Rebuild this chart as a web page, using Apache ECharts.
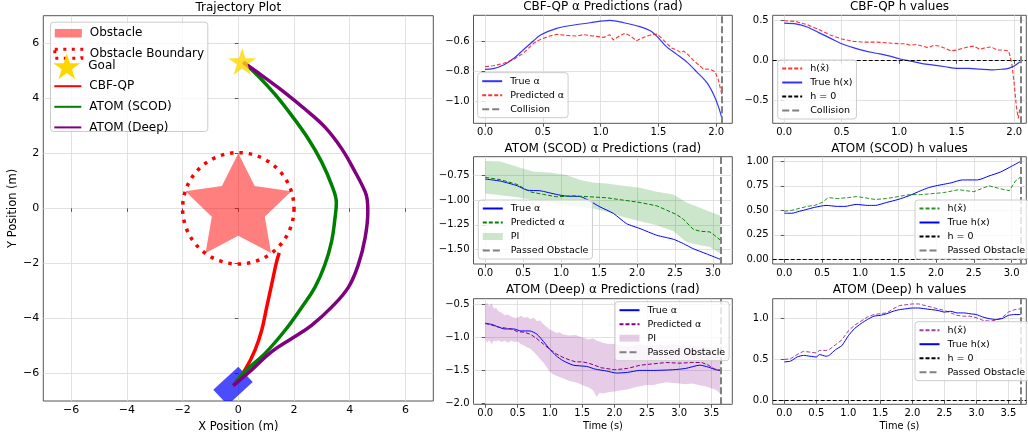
<!DOCTYPE html>
<html>
<head>
<meta charset="utf-8">
<title>Trajectory and CBF predictions</title>
<script src="https://cdn.jsdelivr.net/npm/echarts@6.0.0/dist/echarts.min.js"></script>
<style>
  html, body { margin: 0; padding: 0; background: #fff; }
  #chart { width: 1028px; height: 438px; }
</style>
</head>
<body>
<div id="chart"></div>
<script>
var FONT = 'DejaVu Sans';

// ---------- trajectory plot (m) ----------
var cbfPathX = [-0.18, 0.24, 0.6, 0.84, 1.02, 1.2, 1.38, 1.47];
var cbfPathY = [-6.44, -5.87, -5.15, -4.43, -3.59, -2.75, -1.92, -1.62];
var scodPathX = [-0.18, 0.24, 0.96, 1.68, 2.28, 2.75, 3.11, 3.35, 3.47, 3.52, 3.35, 2.99, 2.51, 1.92, 1.32, 0.72, 0.18];
var scodPathY = [-6.44, -5.93, -5.27, -4.43, -3.59, -2.87, -2.04, -1.2, -0.36, 0.2, 0.85, 1.69, 2.53, 3.37, 4.14, 4.8, 5.31];
var deepPathX = [-0.18, 0.48, 1.2, 1.92, 2.63, 3.35, 3.95, 4.31, 4.55, 4.65, 4.63, 4.55, 4.19, 3.71, 3.11, 2.4, 1.68, 0.96, 0.18];
var deepPathY = [-6.44, -5.87, -5.21, -4.73, -4.25, -3.59, -2.87, -2.04, -1.08, -0.12, 0.3, 0.61, 1.33, 2.17, 2.95, 3.6, 4.2, 4.74, 5.31];
var goalPos = [0.14, 5.34];
var obstacleCenter = [0, 0];
var obstacleOuterR = 2.0;
var obstacleInnerR = 1.0;
var boundaryR = 2.0;
var robotPos = [-0.19, -6.45];
var robotSize = [1.23, 0.76];
var robotHeadingDeg = 43;
var trajTicks = [-6, -4, -2, 0, 2, 4, 6];

// ---------- CBF-QP ----------
var cbfAlphaTrueT = [0, 0.07, 0.16, 0.25, 0.33, 0.42, 0.48, 0.62, 0.77, 0.91, 1.08, 1.2, 1.34, 1.43, 1.49, 1.57, 1.66, 1.75, 1.83, 1.92, 1.98, 2.02, 2.05];
var cbfAlphaTrue = [-0.787, -0.782, -0.758, -0.714, -0.659, -0.598, -0.56, -0.516, -0.494, -0.479, -0.464, -0.479, -0.505, -0.532, -0.571, -0.637, -0.688, -0.741, -0.802, -0.875, -0.956, -1.033, -1.11];
var cbfAlphaPredT = [0, 0.07, 0.16, 0.25, 0.33, 0.42, 0.48, 0.56, 0.62, 0.71, 0.79, 0.85, 0.94, 1.03, 1.05, 1.08, 1.11, 1.17, 1.21, 1.26, 1.31, 1.37, 1.43, 1.49, 1.53, 1.57, 1.62, 1.66, 1.69, 1.72, 1.76, 1.8, 1.85, 1.89, 1.95, 1.99, 2.02, 2.05];
var cbfAlphaPred = [-0.769, -0.763, -0.747, -0.721, -0.681, -0.615, -0.589, -0.567, -0.556, -0.563, -0.567, -0.558, -0.567, -0.576, -0.567, -0.558, -0.593, -0.563, -0.549, -0.567, -0.598, -0.576, -0.56, -0.554, -0.582, -0.615, -0.648, -0.659, -0.675, -0.666, -0.692, -0.725, -0.758, -0.785, -0.787, -0.802, -0.857, -0.956];
var cbfHHatT = [0, 0.1, 0.2, 0.3, 0.4, 0.5, 0.6, 0.7, 0.8, 0.9, 1.0, 1.05, 1.1, 1.15, 1.2, 1.25, 1.3, 1.35, 1.4, 1.45, 1.5, 1.55, 1.6, 1.65, 1.7, 1.75, 1.8, 1.85, 1.9, 1.95, 1.965, 1.98, 2.0, 2.02, 2.035, 2.05];
var cbfHHat = [0.5, 0.49, 0.45, 0.39, 0.32, 0.27, 0.24, 0.23, 0.23, 0.22, 0.21, 0.21, 0.19, 0.2, 0.18, 0.16, 0.19, 0.18, 0.15, 0.12, 0.13, 0.15, 0.17, 0.18, 0.14, 0.16, 0.17, 0.13, 0.13, 0.12, 0.05, -0.05, -0.3, -0.6, -0.73, -0.6];
var cbfHTrueT = [0, 0.1, 0.2, 0.3, 0.4, 0.5, 0.6, 0.7, 0.8, 0.9, 1.0, 1.1, 1.2, 1.3, 1.4, 1.5, 1.6, 1.7, 1.8, 1.9, 1.95, 2.0, 2.05, 2.065];
var cbfHTrue = [0.47, 0.46, 0.42, 0.35, 0.28, 0.21, 0.16, 0.12, 0.09, 0.06, 0.02, -0.01, -0.04, -0.06, -0.08, -0.1, -0.1, -0.11, -0.12, -0.11, -0.1, -0.07, -0.02, 0.0];
var cbfCollisionT = 2.05;

// ---------- ATOM (SCOD) ----------
var scodAlphaTrueT = [0, 0.2, 0.42, 0.55, 0.72, 0.94, 1.07, 1.25, 1.38, 1.51, 1.69, 1.86, 2.04, 2.26, 2.48, 2.61, 2.74, 2.91, 3.1];
var scodAlphaTrue = [-0.784, -0.805, -0.852, -0.897, -0.903, -0.941, -0.958, -0.962, -1.009, -1.067, -1.135, -1.238, -1.289, -1.357, -1.398, -1.442, -1.494, -1.545, -1.603];
var scodAlphaPredT = [0, 0.2, 0.42, 0.59, 0.77, 0.94, 1.16, 1.38, 1.6, 1.82, 2.04, 2.26, 2.39, 2.52, 2.61, 2.74, 2.83, 2.96, 3.02, 3.1];
var scodAlphaPred = [-0.767, -0.79, -0.839, -0.914, -0.941, -0.965, -0.955, -0.965, -0.975, -0.999, -1.023, -1.057, -1.101, -1.146, -1.193, -1.296, -1.316, -1.323, -1.357, -1.408];
var scodBandT = [0, 0.2, 0.42, 0.64, 0.85, 1.07, 1.25, 1.42, 1.6, 1.82, 2.04, 2.26, 2.48, 2.65, 2.83, 2.96, 3.1];
var scodBandHi = [-0.6, -0.605, -0.658, -0.709, -0.716, -0.743, -0.794, -0.818, -0.828, -0.852, -0.873, -0.914, -0.941, -1.023, -1.077, -1.118, -1.159];
var scodBandLo = [-0.931, -0.948, -0.97, -0.999, -1.023, -1.05, -1.067, -1.084, -1.118, -1.17, -1.214, -1.255, -1.316, -1.425, -1.459, -1.477, -1.545];
var scodHHatT = [0, 0.1, 0.2, 0.3, 0.4, 0.5, 0.58, 0.7, 0.85, 0.95, 1.05, 1.2, 1.35, 1.5, 1.65, 1.8, 1.95, 2.1, 2.3, 2.5, 2.7, 2.85, 2.97, 3.05, 3.12];
var scodHHat = [0.49, 0.5, 0.52, 0.54, 0.55, 0.58, 0.63, 0.62, 0.63, 0.64, 0.63, 0.61, 0.62, 0.64, 0.66, 0.66, 0.67, 0.68, 0.71, 0.69, 0.75, 0.72, 0.7, 0.8, 0.84];
var scodHTrueT = [0, 0.1, 0.2, 0.3, 0.4, 0.55, 0.7, 0.8, 0.95, 1.1, 1.2, 1.35, 1.5, 1.65, 1.8, 1.9, 2.0, 2.2, 2.35, 2.55, 2.7, 2.85, 3.0, 3.12];
var scodHTrue = [0.47, 0.47, 0.49, 0.51, 0.53, 0.55, 0.54, 0.54, 0.56, 0.55, 0.55, 0.58, 0.61, 0.65, 0.7, 0.73, 0.75, 0.78, 0.81, 0.81, 0.85, 0.89, 0.95, 1.0];
var scodPassT = 3.1;
var scodHPassT = 3.12;

// ---------- ATOM (Deep) ----------
var deepAlphaTrueT = [0, 0.1, 0.2, 0.3, 0.44, 0.55, 0.69, 0.8, 0.9, 1.0, 1.1, 1.2, 1.36, 1.57, 1.7, 1.88, 2.03, 2.2, 2.39, 2.6, 2.9, 3.1, 3.32, 3.45, 3.57, 3.64];
var deepAlphaTrue = [-0.79, -0.8, -0.84, -0.87, -0.87, -0.9, -0.9, -0.95, -1.06, -1.18, -1.28, -1.35, -1.42, -1.44, -1.48, -1.51, -1.54, -1.53, -1.5, -1.5, -1.49, -1.47, -1.42, -1.45, -1.49, -1.5];
var deepAlphaPredT = [0, 0.2, 0.4, 0.5, 0.6, 0.7, 0.8, 0.9, 1.0, 1.1, 1.2, 1.3, 1.4, 1.5, 1.6, 1.8, 2.0, 2.2, 2.4, 2.6, 2.8, 3.0, 3.2, 3.35, 3.45, 3.55, 3.64];
var deepAlphaPred = [-0.78, -0.84, -0.87, -0.91, -0.92, -0.95, -1.02, -1.1, -1.18, -1.25, -1.3, -1.34, -1.37, -1.37, -1.39, -1.46, -1.49, -1.47, -1.42, -1.4, -1.38, -1.39, -1.38, -1.38, -1.42, -1.48, -1.5];
var deepBandT = [0, 0.03, 0.06, 0.1, 0.13, 0.17, 0.2, 0.25, 0.3, 0.35, 0.4, 0.45, 0.5, 0.55, 0.6, 0.65, 0.7, 0.75, 0.8, 0.85, 0.9, 0.95, 1.0, 1.05, 1.1, 1.15, 1.2, 1.3, 1.4, 1.5, 1.6, 1.67, 1.72, 1.77, 1.82, 1.9, 2.0, 2.1, 2.2, 2.3, 2.4, 2.5, 2.6, 2.7, 2.8, 2.9, 3.0, 3.1, 3.2, 3.3, 3.4, 3.5, 3.58, 3.64];
var deepBandHi = [-0.5, -0.47, -0.52, -0.48, -0.56, -0.55, -0.6, -0.62, -0.66, -0.65, -0.68, -0.7, -0.7, -0.67, -0.7, -0.69, -0.72, -0.7, -0.75, -0.74, -0.8, -0.84, -0.88, -0.9, -0.93, -0.92, -0.95, -0.97, -0.96, -1.0, -1.03, -1.01, -1.05, -1.06, -1.08, -1.1, -1.1, -1.12, -1.14, -1.12, -1.1, -1.12, -1.13, -1.1, -1.12, -1.1, -1.12, -1.13, -1.12, -1.15, -1.14, -1.17, -1.2, -1.2];
var deepBandLo = [-1.02, -1.08, -1.04, -1.1, -1.05, -1.06, -1.04, -1.07, -1.05, -1.08, -1.05, -1.07, -1.06, -1.1, -1.12, -1.15, -1.17, -1.22, -1.27, -1.33, -1.38, -1.45, -1.52, -1.56, -1.58, -1.6, -1.62, -1.66, -1.68, -1.72, -1.76, -1.8, -1.9, -1.84, -1.85, -1.83, -1.82, -1.8, -1.79, -1.76, -1.74, -1.72, -1.72, -1.7, -1.68, -1.69, -1.7, -1.71, -1.7, -1.72, -1.74, -1.77, -1.8, -1.86];
var deepHT = [0, 0.1, 0.2, 0.3, 0.4, 0.5, 0.55, 0.65, 0.7, 0.8, 0.9, 1.0, 1.1, 1.2, 1.3, 1.4, 1.5, 1.6, 1.7, 1.8, 1.9, 2.0, 2.1, 2.2, 2.4, 2.5, 2.6, 2.7, 2.8, 2.9, 3.0, 3.1, 3.2, 3.3, 3.4, 3.5, 3.6, 3.69];
var deepHHat = [0.5, 0.51, 0.56, 0.6, 0.59, 0.58, 0.61, 0.61, 0.62, 0.68, 0.74, 0.85, 0.92, 0.97, 1.02, 1.05, 1.06, 1.07, 1.12, 1.16, 1.17, 1.18, 1.18, 1.16, 1.12, 1.1, 1.07, 1.04, 1.03, 1.03, 1.01, 0.98, 0.97, 0.98, 1.01, 1.08, 1.11, 1.12];
var deepHTrue = [0.47, 0.48, 0.53, 0.55, 0.54, 0.53, 0.56, 0.54, 0.55, 0.62, 0.67, 0.79, 0.88, 0.94, 0.99, 1.03, 1.04, 1.06, 1.09, 1.11, 1.12, 1.13, 1.13, 1.12, 1.1, 1.08, 1.09, 1.07, 1.07, 1.06, 1.05, 1.02, 1.0, 0.99, 1.0, 1.04, 1.05, 1.05];
var deepPassT = 3.64;
var deepHPassT = 3.69;

// tick labels
var ticksT2 = [0, 0.5, 1.0, 1.5, 2.0];
var ticksT3 = [0, 0.5, 1.0, 1.5, 2.0, 2.5, 3.0];
var ticksT35 = [0, 0.5, 1.0, 1.5, 2.0, 2.5, 3.0, 3.5];

var labels = {
  A_true: 'True \u03b1', A_pred: 'Predicted \u03b1', A_col: 'Collision',
  B_hat: 'h(x\u0302)', B_true: 'True h(x)', B_zero: 'h = 0', B_col: 'Collision',
  C_true: 'True \u03b1', C_pred: 'Predicted \u03b1', C_pi: 'PI', C_pass: 'Passed Obstacle',
  D_hat: 'h(x\u0302)', D_true: 'True h(x)', D_zero: 'h = 0', D_pass: 'Passed Obstacle',
  E_true: 'True \u03b1', E_pred: 'Predicted \u03b1', E_pi: 'PI', E_pass: 'Passed Obstacle',
  F_hat: 'h(x\u0302)', F_true: 'True h(x)', F_zero: 'h = 0', F_pass: 'Passed Obstacle'
};

var STAR = 'path://M50,0L61.23,34.55L97.55,34.55L68.16,55.9L79.39,90.45L50,69.1L20.61,90.45L31.84,55.9L2.45,34.55L38.77,34.55Z';
var GRAY = '#808080';

function pairs(xs, ys) {
  return xs.map(function (x, i) { return [x, ys[i]]; });
}
function fmt(d) {
  return function (v) {
    var s = Math.abs(v).toFixed(d);
    return (v < 0 && Number(s) !== 0 ? '\u2212' : '') + s;
  };
}

function axis(gi, min, max, ticks, dec, size, extra) {
  var a = {
    type: 'value', gridIndex: gi, min: min, max: max,
    axisLine: { show: false },
    axisTick: { show: true, inside: false, length: 3.5, customValues: ticks, lineStyle: { color: '#333', width: 0.8 } },
    axisLabel: { customValues: ticks, formatter: fmt(dec), fontSize: size, color: '#000', fontFamily: FONT, margin: 4 },
    splitLine: { show: true, lineStyle: { color: '#d9d9d9', width: 0.8 } }
  };
  for (var k in extra) a[k] = extra[k];
  return a;
}

function line(name, gi, xs, ys, color, width, dash, opacity, smooth) {
  return {
    type: 'line', name: name, xAxisIndex: gi, yAxisIndex: gi,
    data: pairs(xs, ys), symbol: 'none', showSymbol: false, smooth: smooth || false,
    itemStyle: { color: color },
    lineStyle: { color: color, width: width, type: dash || 'solid', opacity: opacity || 1 },
    z: 3, silent: true
  };
}

function refLine(name, gi, where, color, width, dash) {
  var mark = {};
  mark[where[0]] = where[1];
  return {
    type: 'line', name: name, xAxisIndex: gi, yAxisIndex: gi, data: [],
    symbol: 'none', itemStyle: { color: color },
    lineStyle: { color: color, width: width, type: dash },
    markLine: {
      silent: true, symbol: ['none', 'none'], label: { show: false },
      lineStyle: { color: color, width: width, type: dash, opacity: 1 },
      data: [mark]
    },
    z: 4
  };
}

function band(name, gi, xs, lo, hi, color) {
  return {
    type: 'custom', name: name, xAxisIndex: gi, yAxisIndex: gi, data: [[xs[0], lo[0]]],
    itemStyle: { color: color }, z: 1, silent: true,
    renderItem: function (params, api) {
      var top = xs.map(function (x, i) { return api.coord([x, hi[i]]); });
      var bot = xs.map(function (x, i) { return api.coord([x, lo[i]]); }).reverse();
      return { type: 'polygon', shape: { points: top.concat(bot) }, style: { fill: color } };
    }
  };
}

// line legend icons: hide the marker ECharts puts in the middle of the line
var hideMarker = { opacity: 0 };
var showMarker = { opacity: 1 };

function legendBox(names, left, top) {
  return {
    data: names, left: left, top: top, orient: 'vertical', selectedMode: false,
    itemWidth: 20, itemHeight: 10, itemGap: 4, padding: [3.5, 4, 3.5, 3.5],
    backgroundColor: 'rgba(255,255,255,0.8)', borderColor: '#cccccc', borderWidth: 1, borderRadius: 3,
    itemStyle: hideMarker,
    textStyle: { fontSize: 9.5, color: '#000', fontFamily: FONT, padding: [0, 0, 0, 3] },
    formatter: function (n) { return labels[n]; }, z: 10
  };
}

function title(text, cx, top) {
  return { text: text, left: cx, top: top, textAlign: 'center', padding: 0,
    textStyle: { fontSize: 12, fontWeight: 'normal', color: '#000', fontFamily: FONT } };
}

var piIcon = 'path://M0,0h20v7h-20z';

var grids = [
  { left: 43.3, top: 15.7, width: 390, height: 389.3 },
  { left: 473.5, top: 15.3, width: 258.8, height: 108 },
  { left: 772.7, top: 15.3, width: 253.6, height: 108 },
  { left: 473.5, top: 156.7, width: 258.8, height: 107.3 },
  { left: 772.7, top: 156.7, width: 253.6, height: 107.3 },
  { left: 473.5, top: 298.7, width: 258.8, height: 105.6 },
  { left: 772.7, top: 298.7, width: 253.6, height: 105.6 }
].map(function (g) {
  g.show = true; g.borderColor = '#555'; g.borderWidth = 1; g.backgroundColor = 'transparent';
  return g;
});

var nameStyle = { fontSize: 11.5, color: '#000', fontFamily: FONT };
var timeStyle = { fontSize: 9.8, color: '#000', fontFamily: FONT };

var xAxes = [
  axis(0, -7, 7, trajTicks, 0, 11, { name: 'X Position (m)', nameLocation: 'middle', nameGap: 20, nameTextStyle: nameStyle }),
  axis(1, -0.1, 2.14, ticksT2, 1, 10),
  axis(2, -0.1, 2.105, ticksT2, 1, 10),
  axis(3, -0.155, 3.255, ticksT3, 1, 10),
  axis(4, -0.153, 3.193, ticksT3, 1, 10),
  axis(5, -0.182, 3.822, ticksT35, 1, 10, { name: 'Time (s)', nameLocation: 'middle', nameGap: 17, nameTextStyle: timeStyle }),
  axis(6, -0.181, 3.78, ticksT35, 1, 10, { name: 'Time (s)', nameLocation: 'middle', nameGap: 17, nameTextStyle: timeStyle })
];
var yAxes = [
  axis(0, -7, 7, trajTicks, 0, 11, { name: 'Y Position (m)', nameLocation: 'middle', nameGap: 21, nameTextStyle: nameStyle }),
  axis(1, -1.143, -0.43, [-1.0, -0.8, -0.6], 1, 10),
  axis(2, -0.793, 0.568, [-0.5, 0, 0.5], 1, 10),
  axis(3, -1.65, -0.556, [-1.5, -1.25, -1.0, -0.75], 2, 10),
  axis(4, -0.048, 1.047, [0, 0.25, 0.5, 0.75, 1.0], 2, 10),
  axis(5, -2.015, -0.41, [-2.0, -1.5, -1.0, -0.5], 1, 10),
  axis(6, -0.049, 1.244, [0, 0.5, 1.0], 1, 10)
];

var series = [
  {
    type: 'custom', name: 'Obstacle', xAxisIndex: 0, yAxisIndex: 0, data: [obstacleCenter],
    itemStyle: { color: 'rgba(255,0,0,0.5)' }, z: 2, silent: true,
    renderItem: function (params, api) {
      var pts = [];
      for (var k = 0; k < 10; k++) {
        var r = k % 2 === 0 ? obstacleOuterR : obstacleInnerR;
        var a = Math.PI / 2 + k * Math.PI / 5;
        pts.push(api.coord([obstacleCenter[0] + r * Math.cos(a), obstacleCenter[1] + r * Math.sin(a)]));
      }
      return { type: 'polygon', shape: { points: pts }, style: { fill: 'rgba(255,0,0,0.5)' } };
    }
  },
  {
    type: 'custom', name: 'Obstacle Boundary', xAxisIndex: 0, yAxisIndex: 0, data: [obstacleCenter],
    itemStyle: { color: '#ff0000' }, z: 2, silent: true,
    renderItem: function (params, api) {
      var c = api.coord(obstacleCenter);
      var r = api.size([boundaryR, 0])[0];
      return { type: 'circle', shape: { cx: c[0], cy: c[1], r: r },
        style: { fill: 'none', stroke: '#ff0000', lineWidth: 3.5, lineDash: [3.5, 5.9] } };
    }
  },
  {
    type: 'custom', name: 'robot', xAxisIndex: 0, yAxisIndex: 0, data: [robotPos], z: 2, silent: true,
    renderItem: function (params, api) {
      var h = robotHeadingDeg * Math.PI / 180;
      var u = [Math.cos(h), Math.sin(h)], v = [-Math.sin(h), Math.cos(h)];
      var hl = robotSize[0] / 2, hw = robotSize[1] / 2;
      var pts = [[1, 1], [1, -1], [-1, -1], [-1, 1]].map(function (s) {
        return api.coord([robotPos[0] + s[0] * hl * u[0] + s[1] * hw * v[0],
                          robotPos[1] + s[0] * hl * u[1] + s[1] * hw * v[1]]);
      });
      var cs = params.coordSys;
      return {
        type: 'group',
        clipPath: { type: 'rect', shape: { x: cs.x, y: cs.y, width: cs.width, height: cs.height } },
        children: [{ type: 'polygon', shape: { points: pts }, style: { fill: 'rgba(0,0,255,0.7)' } }]
      };
    }
  },
  {
    type: 'scatter', name: 'Goal', xAxisIndex: 0, yAxisIndex: 0, data: [goalPos],
    symbol: STAR, symbolSize: [28, 27], itemStyle: { color: '#ffd700' }, z: 3, silent: true
  },
  line('CBF-QP', 0, cbfPathX, cbfPathY, '#ff0000', 3.5, 'solid', 1, 0.4),
  line('ATOM (SCOD)', 0, scodPathX, scodPathY, '#008000', 3.5, 'solid', 1, 0.4),
  line('ATOM (Deep)', 0, deepPathX, deepPathY, '#800080', 3.5, 'solid', 1, 0.4),

  // CBF-QP alpha
  line('A_true', 1, cbfAlphaTrueT, cbfAlphaTrue, '#0000ff', 1.2, 'solid', 0.8, 0.3),
  line('A_pred', 1, cbfAlphaPredT, cbfAlphaPred, '#ff0000', 1.1, [4, 2], 0.8),
  refLine('A_col', 1, ['xAxis', cbfCollisionT], GRAY, 2, [7, 3]),
  // CBF-QP h
  line('B_hat', 2, cbfHHatT, cbfHHat, '#ff0000', 1.1, [4, 2], 0.8),
  line('B_true', 2, cbfHTrueT, cbfHTrue, '#0000ff', 1.2, 'solid', 0.8, 0.3),
  refLine('B_zero', 2, ['yAxis', 0], '#000000', 1, [4, 2]),
  refLine('B_col', 2, ['xAxis', 2.058], GRAY, 2, [7, 3]),

  // SCOD alpha
  band('C_pi', 3, scodBandT, scodBandLo, scodBandHi, 'rgba(0,128,0,0.2)'),
  line('C_true', 3, scodAlphaTrueT, scodAlphaTrue, '#0000ff', 1, 'solid', 1, 0.2),
  line('C_pred', 3, scodAlphaPredT, scodAlphaPred, '#008000', 1, [4, 2], 1),
  refLine('C_pass', 3, ['xAxis', scodPassT], GRAY, 2, [7, 3]),
  // SCOD h
  line('D_hat', 4, scodHHatT, scodHHat, '#008000', 1, [4, 2], 0.85),
  line('D_true', 4, scodHTrueT, scodHTrue, '#0000ff', 1, 'solid', 1, 0.2),
  refLine('D_zero', 4, ['yAxis', 0], '#000000', 1, [4, 2]),
  refLine('D_pass', 4, ['xAxis', scodHPassT], GRAY, 2, [7, 3]),

  // Deep alpha
  band('E_pi', 5, deepBandT, deepBandLo, deepBandHi, 'rgba(128,0,128,0.2)'),
  line('E_true', 5, deepAlphaTrueT, deepAlphaTrue, '#0000ff', 1, 'solid', 1, 0.2),
  line('E_pred', 5, deepAlphaPredT, deepAlphaPred, '#800080', 1, [4, 2], 1),
  refLine('E_pass', 5, ['xAxis', deepPassT], GRAY, 2, [7, 3]),
  // Deep h
  line('F_hat', 6, deepHT, deepHHat, '#800080', 1, [4, 2], 0.75),
  line('F_true', 6, deepHT, deepHTrue, '#0000ff', 1, 'solid', 1, 0.2),
  refLine('F_zero', 6, ['yAxis', 0], '#000000', 1, [4, 2]),
  refLine('F_pass', 6, ['xAxis', deepHPassT], GRAY, 2, [7, 3])
];

var trajLegendBase = {
  orient: 'vertical', selectedMode: false, left: 53.3, padding: 0, itemWidth: 27, itemHeight: 9, itemGap: 8.6,
  itemStyle: hideMarker,
  textStyle: { fontSize: 12, color: '#000', fontFamily: FONT, padding: [0, 0, 0, 3] }, z: 10
};
function trajLegend(data, top, extra) {
  var l = { data: data, top: top };
  for (var k in trajLegendBase) l[k] = trajLegendBase[k];
  for (var j in extra) l[j] = extra[j];
  return l;
}

var option = {
  animation: false,
  backgroundColor: '#ffffff',
  title: [
    title('Trajectory Plot', 238.3, 1.5),
    title('CBF-QP \u03b1 Predictions (rad)', 602.9, 1.2),
    title('CBF-QP h values', 899.5, 1.2),
    title('ATOM (SCOD) \u03b1 Predictions (rad)', 602.9, 142.5),
    title('ATOM (SCOD) h values', 899.5, 142.5),
    title('ATOM (Deep) \u03b1 Predictions (rad)', 602.9, 284),
    title('ATOM (Deep) h values', 899.5, 284)
  ],
  graphic: [{
    type: 'rect', left: 50, top: 21.7, z: 9, silent: true,
    shape: { width: 157.3, height: 109.3, r: 3 },
    style: { fill: 'rgba(255,255,255,0.8)', stroke: '#cccccc', lineWidth: 1 }
  }],
  legend: [
    trajLegend([
      { name: 'Obstacle', icon: 'path://M0,0h27v8.5h-27z', itemStyle: showMarker },
      { name: 'Obstacle Boundary', icon: 'rect',
        itemStyle: { opacity: 1, color: 'rgba(0,0,0,0)', borderColor: '#ff0000', borderWidth: 3, borderType: [3, 5.5] } }
    ], 27.2),
    trajLegend([{ name: 'Goal', icon: STAR, itemStyle: showMarker }], 53.5, { itemHeight: 27 }),
    trajLegend(['CBF-QP', 'ATOM (SCOD)', 'ATOM (Deep)'], 80.2),
    legendBox(['A_true', 'A_pred', 'A_col'], 477.7, 72.7),
    legendBox(['B_hat', 'B_true', 'B_zero', 'B_col'], 777.7, 60),
    legendBox(['C_true', 'C_pred', { name: 'C_pi', icon: piIcon, itemStyle: showMarker }, 'C_pass'], 478.3, 200),
    legendBox(['D_hat', 'D_true', 'D_zero', 'D_pass'], 915, 200),
    legendBox(['E_true', 'E_pred', { name: 'E_pi', icon: piIcon, itemStyle: showMarker }, 'E_pass'], 615, 301.7),
    legendBox(['F_hat', 'F_true', 'F_zero', 'F_pass'], 915, 321.7)
  ],
  grid: grids,
  xAxis: xAxes,
  yAxis: yAxes,
  series: series
};

var myChart = echarts.init(document.getElementById('chart'), null, { renderer: 'canvas' });
myChart.setOption(option);
</script>
</body>
</html>
